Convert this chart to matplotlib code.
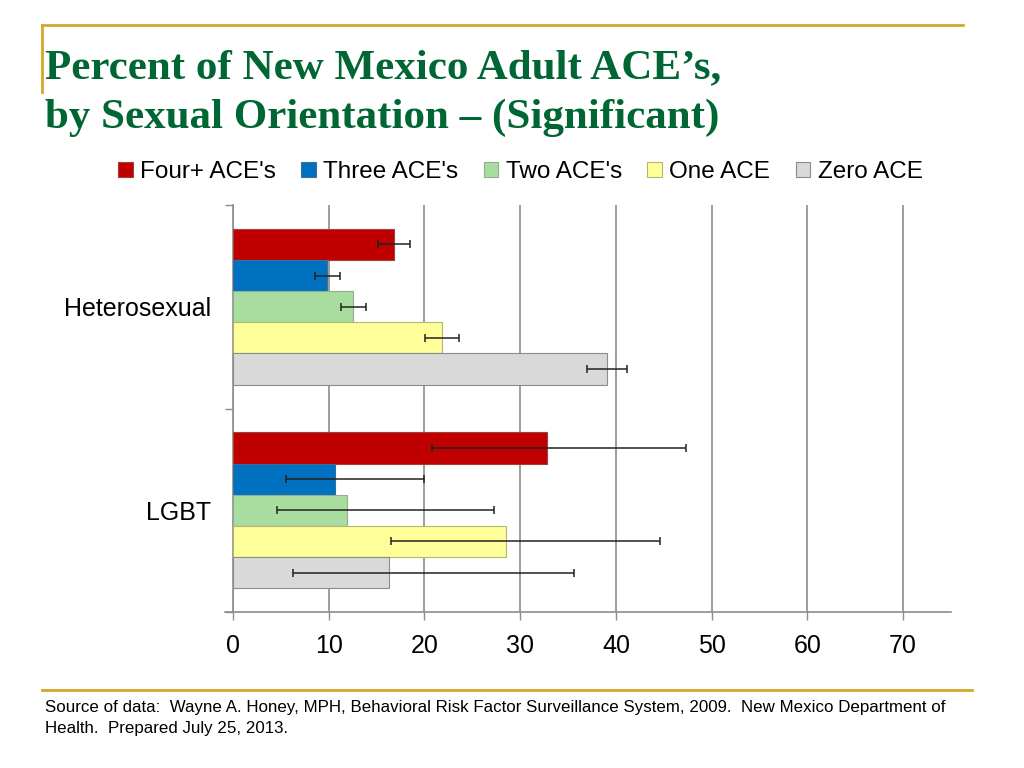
import matplotlib.pyplot as plt
import numpy as np
from matplotlib.lines import Line2D

# ---- data ----
groups = ["Heterosexual", "LGBT"]
series = ["Four+ ACE's", "Three ACE's", "Two ACE's", "One ACE", "Zero ACE"]

# percent, one list per series: [Heterosexual, LGBT]
four_plus = [16.8, 32.8]
three = [9.8, 10.7]
two = [12.5, 11.9]
one = [21.8, 28.5]
zero = [39.1, 16.3]

# confidence limits
four_plus_lo = [15.1, 20.8]
four_plus_hi = [18.5, 47.3]
three_lo = [8.6, 5.5]
three_hi = [11.2, 19.9]
two_lo = [11.3, 4.6]
two_hi = [13.9, 27.3]
one_lo = [20.1, 16.5]
one_hi = [23.6, 44.6]
zero_lo = [37.0, 6.3]
zero_hi = [41.2, 35.6]

values = [four_plus, three, two, one, zero]
lows = [four_plus_lo, three_lo, two_lo, one_lo, zero_lo]
highs = [four_plus_hi, three_hi, two_hi, one_hi, zero_hi]

colors = ["#C00000", "#0070C0", "#A9DDA0", "#FFFF99", "#D9D9D9"]
edges = ["#A04040", "#3A6E9A", "#8FB08A", "#B5B570", "#8C8C8C"]

gold = "#D4A62A"
title_green = "#006633"

plt.rcParams["font.family"] = ["Liberation Sans", "DejaVu Sans"]

fig = plt.figure(figsize=(10.24, 7.68), dpi=100)
ax = fig.add_axes([233 / 1024, 1 - 612 / 768, (951 - 233) / 1024, (612 - 205) / 768])

bar_h = 0.153
y = np.arange(len(groups))
for i, name in enumerate(series):
    pos = y + (i - 2) * bar_h
    v = np.array(values[i])
    err = np.array([v - np.array(lows[i]), np.array(highs[i]) - v])
    ax.barh(pos, v, height=bar_h, color=colors[i], edgecolor=edges[i],
            linewidth=0.8, label=name, zorder=3)
    ax.errorbar(v, pos, xerr=err, fmt="none", ecolor="#222222", elinewidth=1.1,
                capsize=3, capthick=1.1, zorder=4)

ax.set_xlim(0, 75)
ax.set_ylim(1.5, -0.5)
ax.set_xticks(np.arange(0, 71, 10))
ax.set_yticks(y)
ax.set_yticklabels(groups)
ax.set_yticks([-0.5, 0.5, 1.5], minor=True)
ax.tick_params(axis="y", which="major", length=0, pad=16, labelsize=18)
ax.tick_params(axis="y", which="minor", length=6, color="#8C8C8C", width=1)
ax.tick_params(axis="x", length=6, color="#8C8C8C", width=1, pad=10, labelsize=18)
ax.xaxis.grid(True, color="#8C8C8C", linewidth=1.2, zorder=0)
for s in ["top", "right"]:
    ax.spines[s].set_visible(False)
for s in ["left", "bottom"]:
    ax.spines[s].set_color("#8C8C8C")
    ax.spines[s].set_linewidth(1.2)
ax.spines["bottom"].set_bounds(-0.8, 75)

fig.legend(loc="center", bbox_to_anchor=(0.508, 0.776), ncol=5, frameon=False,
           fontsize=17.5, handlelength=0.6, handleheight=0.6, handletextpad=0.3,
           columnspacing=1.05)

# title and decorative lines
fig.text(45 / 1024, 1 - 78 / 768, "Percent of New Mexico Adult ACE\u2019s,",
         fontsize=31, fontweight="bold", color=title_green,
         family=["Liberation Serif", "DejaVu Serif"], va="baseline")
fig.text(45 / 1024, 1 - 128 / 768, "by Sexual Orientation \u2013 (Significant)",
         fontsize=31, fontweight="bold", color=title_green,
         family=["Liberation Serif", "DejaVu Serif"], va="baseline")

fig.add_artist(Line2D([42 / 1024, 963 / 1024], [1 - 25 / 768] * 2, color=gold, lw=2))
fig.add_artist(Line2D([42 / 1024] * 2, [1 - 25 / 768, 1 - 92 / 768], color=gold, lw=2))
fig.add_artist(Line2D([42 / 1024, 972 / 1024], [1 - 690 / 768] * 2, color=gold, lw=2))

fig.text(45 / 1024, 1 - 700 / 768,
         "Source of data:  Wayne A. Honey, MPH, Behavioral Risk Factor Surveillance System, 2009.  "
         "New Mexico Department of\nHealth.  Prepared July 25, 2013.",
         fontsize=12.2, va="top", linespacing=1.5)

fig.savefig("out.png", dpi=100)
